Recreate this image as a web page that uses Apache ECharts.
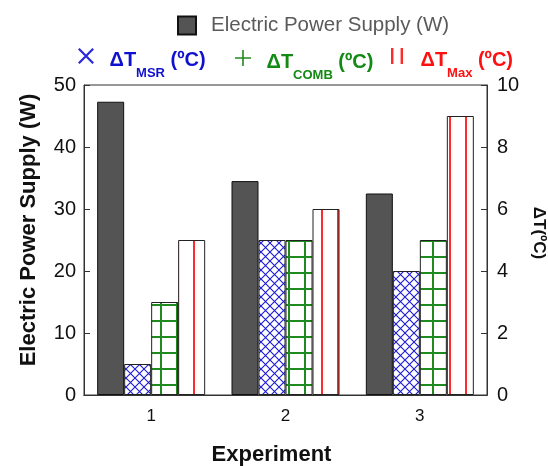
<!DOCTYPE html>
<html>
<head>
<meta charset="utf-8">
<script src="https://cdn.jsdelivr.net/npm/echarts@6/dist/echarts.min.js"></script>
<style>
  html, body { margin: 0; padding: 0; background: #fff; }
  #chart { width: 548px; height: 466px; }
</style>
</head>
<body>
<div id="chart"></div>
<script>
  // data
  const experiments = ['1', '2', '3']
  const powerSupply = [47.3, 34.5, 32.5]
  const dtMsr = [1, 5, 4]
  const dtComb = [3, 5, 5]
  const dtMax = [5, 6, 9]
  const powerTicks = { min: 0, max: 50, interval: 10 }
  const tempTicks = { min: 0, max: 10, interval: 2 }

  const FONT = '"Liberation Sans", Arial, sans-serif'

  // little canvases used as fill patterns
  function makePattern (w, h, draw) {
    let c = document.createElement('canvas')
    c.width = w
    c.height = h
    let ctx = c.getContext('2d')
    ctx.fillStyle = '#fff'
    ctx.fillRect(0, 0, w, h)
    draw(ctx)
    return { image: c, repeat: 'repeat' }
  }

  const crossFill = makePattern(9, 9, ctx => {
    ctx.strokeStyle = '#1c1cd6'
    ctx.lineWidth = 1.1
    ctx.beginPath()
    ctx.moveTo(0, 0); ctx.lineTo(9, 9)
    ctx.moveTo(9, 0); ctx.lineTo(0, 9)
    ctx.stroke()
  })
  const gridFill = makePattern(16, 16, ctx => {
    ctx.fillStyle = '#1f8a1f'
    ctx.fillRect(0, 0, 2, 16)
    ctx.fillRect(0, 0, 16, 2)
  })
  const lineFill = makePattern(16, 4, ctx => {
    ctx.fillStyle = '#ff2a2a'
    ctx.fillRect(1, 0, 2, 4)
  })

  const legendNames = {
    msr: '{b|ΔT}{s|MSR}{b| (ºC)}',
    comb: '{b|ΔT}{s|COMB}{b| (ºC)}',
    max: '{b|ΔT}{s|Max}{b| (ºC)}'
  }

  function richFor (color) {
    return {
      b: { fontSize: 20, fontWeight: 'bold', color: color, fontFamily: FONT, lineHeight: 22, padding: [5, 0, 0, 0], verticalAlign: 'top' },
      s: { fontSize: 13, fontWeight: 'bold', color: color, fontFamily: FONT, lineHeight: 14, padding: [22, 0, 0, 0], verticalAlign: 'top' }
    }
  }

  function tempLegend (name, left, top, icon, iconColor, textColor) {
    return {
      data: [{ name: name, icon: icon, itemStyle: { color: iconColor, borderWidth: 0 } }],
      left: left,
      top: top,
      itemWidth: 17,
      itemHeight: 16,
      formatter: n => legendNames[n],
      textStyle: { padding: [0, 0, 0, 10], rich: richFor(textColor) }
    }
  }

  let chart = echarts.init(document.getElementById('chart'), null, { renderer: 'canvas' })

  function patternBar (name, data, fill) {
    return {
      name: name,
      type: 'bar',
      yAxisIndex: 1,
      barWidth: 27,
      barGap: '0%',
      data: data,
      itemStyle: { color: fill, borderColor: '#222', borderWidth: 1 },
      emphasis: { disabled: true }
    }
  }

  let options = {
    animation: false,
    textStyle: { fontFamily: FONT },
    legend: [{
      data: ['Electric Power Supply (W)'],
      left: 172,
      top: 10,
      icon: 'rect',
      itemWidth: 18,
      itemHeight: 18,
      textStyle: { fontSize: 20.5, color: '#5a5a5a', fontFamily: FONT, padding: [0, 0, 0, 10] }
    },
    tempLegend('msr', 73, 40, 'path://M0,1 L1,0 L10,9 L9,10 Z M9,0 L10,1 L1,10 L0,9 Z', '#2a2ad8', '#1010d0'),
    tempLegend('comb', 230, 42, 'path://M9,0h2v9h9v2h-9v9h-2v-9h-9v-2h9z', '#1f8a1f', '#138a13'),
    tempLegend('max', 386, 40, 'path://M0,0h3v20h-3z M12,0h3v20h-3z', '#ff2a2a', '#ff1010')],
    grid: {
      left: 84,
      right: 61,
      top: 85,
      bottom: 71,
      containLabel: false,
      outerBoundsMode: 'none',
      show: true,
      borderColor: '#333',
      borderWidth: 1
    },
    xAxis: [{
      type: 'category',
      data: experiments,
      axisLine: { lineStyle: { color: '#333' } },
      axisTick: { inside: true, length: 6, lineStyle: { color: '#333' } },
      axisLabel: { fontSize: 17, color: '#111', margin: 13 },
      name: 'Experiment',
      nameLocation: 'middle',
      nameGap: 49,
      nameTextStyle: { fontSize: 22, fontWeight: 'bold', color: '#111', padding: [0, 28, 0, 0] }
    }, {
      type: 'category',
      position: 'top',
      data: experiments,
      axisLine: { lineStyle: { color: '#333' } },
      axisTick: { inside: true, length: 5, lineStyle: { color: '#333' } },
      axisLabel: { show: false }
    }],
    yAxis: [{
      type: 'value',
      min: powerTicks.min,
      max: powerTicks.max,
      interval: powerTicks.interval,
      splitLine: { show: false },
      axisLine: { show: true, lineStyle: { color: '#333' } },
      axisTick: { show: true, inside: true, length: 6, lineStyle: { color: '#333' } },
      axisLabel: { fontSize: 20, color: '#111', margin: 8 },
      name: 'Electric Power Supply (W)',
      nameLocation: 'middle',
      nameGap: 44,
      nameTextStyle: { fontSize: 22, fontWeight: 'bold', color: '#111', padding: [0, 0, 0, 20] }
    }, {
      type: 'value',
      position: 'right',
      min: tempTicks.min,
      max: tempTicks.max,
      interval: tempTicks.interval,
      splitLine: { show: false },
      axisLine: { show: true, lineStyle: { color: '#333' } },
      axisTick: { show: true, inside: true, length: 6, lineStyle: { color: '#333' } },
      axisLabel: { fontSize: 20, color: '#111', margin: 10 },
      name: 'ΔT(ºC)',
      nameLocation: 'middle',
      nameRotate: -90,
      nameGap: 42,
      nameTextStyle: { fontSize: 17, fontWeight: 'bold', color: '#111', padding: [0, 14, 0, 0] }
    }],
    series: [{
      name: 'Electric Power Supply (W)',
      type: 'bar',
      yAxisIndex: 0,
      barWidth: 27,
      barGap: '0%',
      data: powerSupply,
      itemStyle: { color: '#545454', borderColor: '#111', borderWidth: 1 },
      emphasis: { disabled: true }
    },
    patternBar('msr', dtMsr, crossFill),
    patternBar('comb', dtComb, gridFill),
    patternBar('max', dtMax, lineFill)]
  }

  chart.setOption(options)
</script>
</body>
</html>
